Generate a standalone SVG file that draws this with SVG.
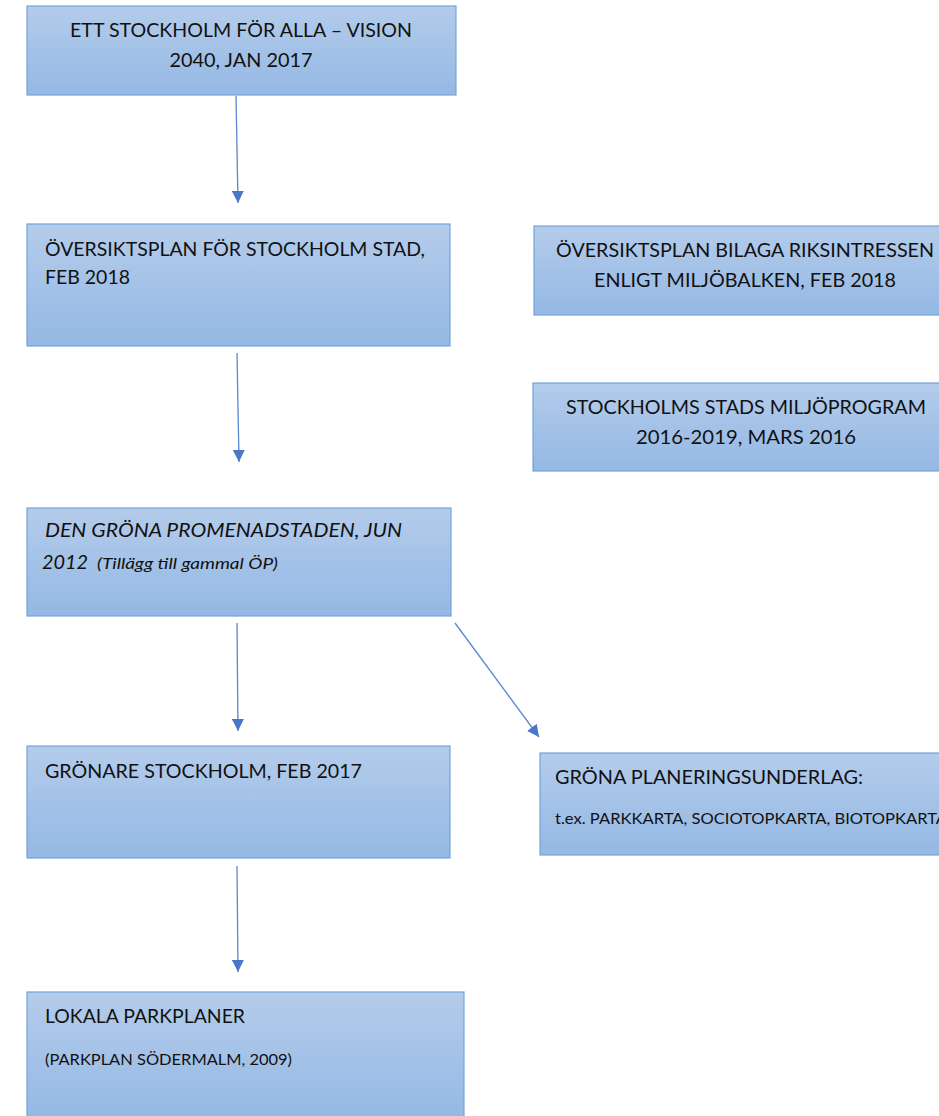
<svg xmlns="http://www.w3.org/2000/svg" width="939" height="1116" viewBox="0 0 939 1116">
<style>
.box{fill:url(#g);stroke:#74a3da;stroke-width:1.2}
.t{font-family:Lato,"Open Sans",sans-serif;font-size:20px;fill:#111}
.s{font-family:Lato,"Open Sans",sans-serif;font-size:15px;fill:#111}
.c{text-anchor:middle}
.i{font-style:italic}
.ln{stroke:#5b87cf;stroke-width:1.3;fill:none;marker-end:url(#a)}
</style>
<defs>
<linearGradient id="g" x1="0" y1="0" x2="0" y2="1">
<stop offset="0" stop-color="#b4cceb"/>
<stop offset="1" stop-color="#94b8e4"/>
</linearGradient>
<marker id="a" viewBox="0 0 12 12" refX="12" refY="6" markerWidth="12" markerHeight="12" markerUnits="userSpaceOnUse" orient="auto">
<path d="M0,0L12,6L0,12Z" fill="#4a78c8"/>
</marker>
</defs>
<rect width="939" height="1116" fill="#fff"/>
<g id="n1"><rect class="box" x="27" y="6" width="429" height="89"/>
<text class="t c" x="241" y="37" textLength="342" lengthAdjust="spacingAndGlyphs">ETT STOCKHOLM FÖR ALLA – VISION</text>
<text class="t c" x="241" y="67" textLength="143" lengthAdjust="spacingAndGlyphs">2040, JAN 2017</text></g>
<g id="n2"><rect class="box" x="27" y="224" width="423" height="122"/>
<text class="t" x="45" y="256" textLength="380" lengthAdjust="spacingAndGlyphs">ÖVERSIKTSPLAN FÖR STOCKHOLM STAD,</text>
<text class="t" x="45" y="284" textLength="85" lengthAdjust="spacingAndGlyphs">FEB 2018</text></g>
<g id="n3"><rect class="box" x="534" y="226" width="410" height="89"/>
<text class="t c" x="745" y="257" textLength="378" lengthAdjust="spacingAndGlyphs">ÖVERSIKTSPLAN BILAGA RIKSINTRESSEN</text>
<text class="t c" x="745" y="287" textLength="302" lengthAdjust="spacingAndGlyphs">ENLIGT MILJÖBALKEN, FEB 2018</text></g>
<g id="n4"><rect class="box" x="533" y="383" width="411" height="88"/>
<text class="t c" x="746" y="414" textLength="360" lengthAdjust="spacingAndGlyphs">STOCKHOLMS STADS MILJÖPROGRAM</text>
<text class="t c" x="746" y="444" textLength="220" lengthAdjust="spacingAndGlyphs">2016-2019, MARS 2016</text></g>
<g id="n5"><rect class="box" x="27" y="508" width="424" height="108"/>
<text class="t i" x="45" y="537" textLength="357" lengthAdjust="spacingAndGlyphs">DEN GRÖNA PROMENADSTADEN, JUN</text>
<text class="t i" x="42" y="569" textLength="46" lengthAdjust="spacingAndGlyphs">2012</text>
<text class="s i" x="97" y="569" textLength="181" lengthAdjust="spacingAndGlyphs">(Tillägg till gammal ÖP)</text></g>
<g id="n6"><rect class="box" x="27" y="746" width="423" height="112"/>
<text class="t" x="45" y="778" textLength="317" lengthAdjust="spacingAndGlyphs">GRÖNARE STOCKHOLM, FEB 2017</text></g>
<g id="n7"><rect class="box" x="540" y="753" width="404" height="102"/>
<text class="t" x="555" y="784" textLength="308" lengthAdjust="spacingAndGlyphs">GRÖNA PLANERINGSUNDERLAG:</text>
<text class="s" x="555" y="824" textLength="392" lengthAdjust="spacingAndGlyphs">t.ex. PARKKARTA, SOCIOTOPKARTA, BIOTOPKARTA</text></g>
<g id="n8"><rect class="box" x="27" y="992" width="437" height="130"/>
<text class="t" x="45" y="1023" textLength="200" lengthAdjust="spacingAndGlyphs">LOKALA PARKPLANER</text>
<text class="s" x="45" y="1065" textLength="247" lengthAdjust="spacingAndGlyphs">(PARKPLAN SÖDERMALM, 2009)</text></g>
<g id="connectors">
<line class="ln" x1="236" y1="96" x2="238" y2="203"/>
<line class="ln" x1="237" y1="353" x2="239" y2="462"/>
<line class="ln" x1="237" y1="623" x2="238" y2="731"/>
<line class="ln" x1="455" y1="623" x2="539" y2="737"/>
<line class="ln" x1="237" y1="866" x2="238" y2="972"/>
</g>
</svg>
